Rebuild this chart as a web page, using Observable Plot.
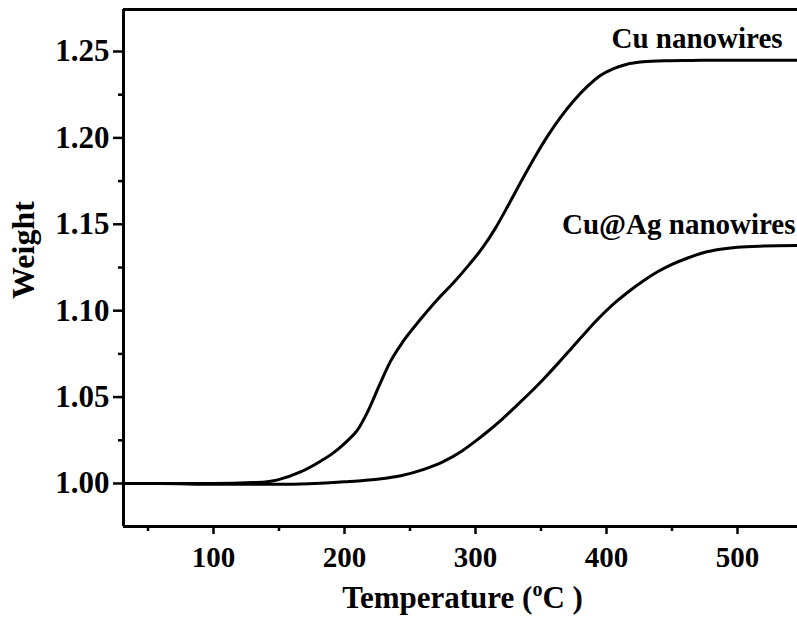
<!DOCTYPE html>
<html>
<head>
<meta charset="utf-8">
<script src="https://cdn.jsdelivr.net/npm/d3@7"></script>
<script src="https://cdn.jsdelivr.net/npm/@observablehq/plot@0.6"></script>
<style>
  html, body { margin: 0; padding: 0; background: #fff; }
  #chart { width: 797px; height: 619px; }
</style>
</head>
<body>
<div id="chart"></div>
<script>
// ---- data ----
const cuTemp   = [31, 60, 100, 130, 141, 149, 166, 182, 192, 202, 210, 218, 227, 235, 245, 258, 271, 283, 295, 305, 315, 325, 335, 345, 355, 365, 375, 385, 395, 405, 415, 428, 445, 465, 490, 520, 546];
const cuWeight = [1.000, 1.000, 1.000, 1.0005, 1.001, 1.0021, 1.0065, 1.013, 1.018, 1.0245, 1.031, 1.042, 1.0575, 1.0705, 1.0825, 1.095, 1.1065, 1.116, 1.1265, 1.136, 1.1475, 1.161, 1.175, 1.1885, 1.201, 1.212, 1.2215, 1.2295, 1.236, 1.240, 1.2425, 1.244, 1.2446, 1.2448, 1.245, 1.245, 1.245];

const agTemp   = [31, 60, 100, 150, 200, 225, 243, 260, 275, 290, 300, 310, 320, 332, 343, 352, 363, 373, 383, 392, 400, 409, 418, 428, 439, 450, 462, 474, 487, 500, 520, 546];
const agWeight = [1.000, 1.000, 0.9995, 0.9995, 1.001, 1.0025, 1.0045, 1.008, 1.0125, 1.019, 1.0245, 1.0305, 1.037, 1.0455, 1.0535, 1.0605, 1.0695, 1.078, 1.0865, 1.094, 1.1001, 1.1062, 1.1117, 1.1172, 1.1225, 1.1268, 1.1305, 1.1335, 1.1355, 1.1367, 1.1374, 1.1377];

const xDomain = [31.3, 545.8];
const yDomain = [0.9751, 1.2743];
const xTicks  = [100, 200, 300, 400, 500];
const xMinor  = [50, 150, 250, 350, 450];
const yTicks  = [1.00, 1.05, 1.10, 1.15, 1.20, 1.25];
const yMinor  = [1.025, 1.075, 1.125, 1.175, 1.225];

const seriesNames  = ["Cu nanowires", "Cu@Ag nanowires"];
const seriesLabelX = [534.4, 544.3];
const seriesLabelY = [1.2572, 1.1499];

const xLabel = "Temperature (oC)";
const yLabel = "Weight";

// ---- tables built from the arrays ----
const cu = cuTemp.map((t, i) => ({t, w: cuWeight[i]}));
const ag = agTemp.map((t, i) => ({t, w: agWeight[i]}));
const labels = seriesNames.map((name, i) => ({name, x: seriesLabelX[i], y: seriesLabelY[i]}));

const font = "'Liberation Serif', 'Times New Roman', serif";

const chart = Plot.plot({
  width: 797,
  height: 619,
  marginLeft: 123,
  marginRight: 0,
  marginTop: 9,
  marginBottom: 93,
  x: {domain: xDomain},
  y: {domain: yDomain},
  style: {fontFamily: font, fontWeight: "bold", fontSize: "30px", color: "black", background: "white", overflow: "visible"},
  marks: [
    Plot.axisX(xMinor, {tickSize: 5, text: null, label: null, strokeWidth: 2.5}),
    Plot.axisX(xTicks, {tickSize: 8, tickPadding: 12, label: null, strokeWidth: 2.5, fontSize: 29}),
    Plot.axisY(yMinor, {tickSize: 5, text: null, label: null, strokeWidth: 2.5}),
    Plot.axisY(yTicks, {tickSize: 10, tickPadding: 4, label: null, strokeWidth: 2.5, fontSize: 31, tickFormat: d => d.toFixed(2)}),
    Plot.ruleX([xDomain[0]], {strokeWidth: 3, stroke: "black"}),
    Plot.ruleY([yDomain[0], yDomain[1]], {strokeWidth: 3, stroke: "black"}),
    Plot.line(cu, {x: "t", y: "w", stroke: "black", strokeWidth: 3, curve: "monotone-x"}),
    Plot.line(ag, {x: "t", y: "w", stroke: "black", strokeWidth: 3, curve: "monotone-x"}),
    Plot.text(labels, {x: "x", y: "y", text: "name", textAnchor: "end", fontSize: 29, fontWeight: "bold", fill: "black", letterSpacing: "0.5px"}),
    Plot.text([yLabel], {frameAnchor: "left", text: d => d, rotate: -90, textAnchor: "middle", lineAnchor: "middle", dx: -100, dy: -18, fontSize: 32, fontWeight: "bold", fill: "black"}),
    Plot.text([xLabel], {frameAnchor: "bottom", text: d => d, textAnchor: "middle", lineAnchor: "middle", dx: 2, dy: 72, fontSize: 31, fontWeight: "bold", fill: "black"})
  ]
});

// superscript "o" in the x label
chart.querySelectorAll("text").forEach(el => {
  if (el.textContent === xLabel) {
    const ns = "http://www.w3.org/2000/svg";
    el.textContent = "";
    const a = document.createElementNS(ns, "tspan");
    a.textContent = "Temperature (";
    const b = document.createElementNS(ns, "tspan");
    b.textContent = "o";
    b.setAttribute("font-size", "20");
    b.setAttribute("dy", "-12");
    const c = document.createElementNS(ns, "tspan");
    c.textContent = "C )";
    c.setAttribute("dy", "12");
    el.append(a, b, c);
  }
});

document.getElementById("chart").appendChild(chart);
</script>
</body>
</html>
